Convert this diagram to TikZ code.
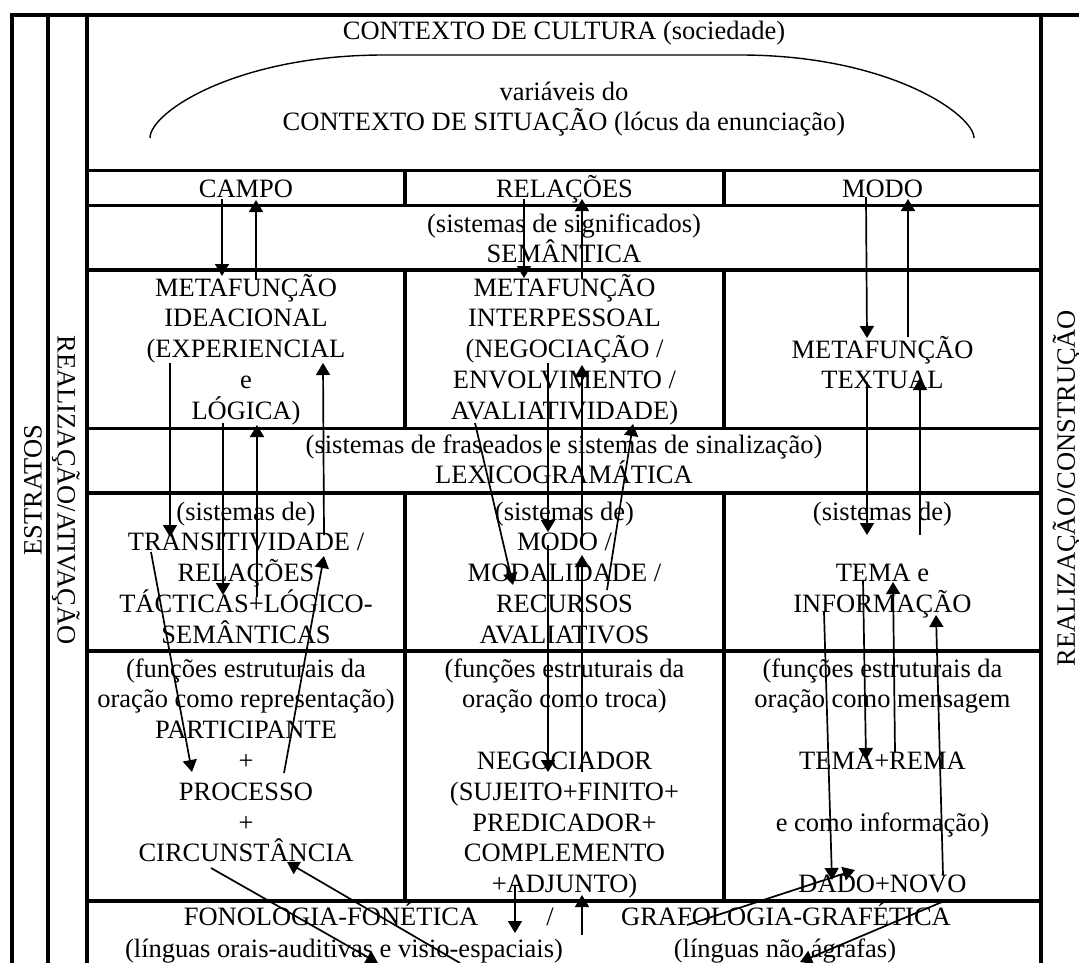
\documentclass[tikz,border=0pt]{standalone}
\usepackage{fontspec}
\setmainfont{Liberation Serif}
\usetikzlibrary{arrows.meta}
\begin{document}
\begin{tikzpicture}[x=1bp,y=-1bp,
  frame/.style={line width=3.8bp},
  arr/.style={line width=1.7bp,-{Triangle[length=12bp,width=14bp]}},
  % multi-line labels are placed by the baseline of their last line
  lbl/.style={inner sep=0pt,anchor=base,align=center,font=\fontsize{26.5bp}{30.8bp}\selectfont},
  side/.style={inner sep=0pt,font=\fontsize{26.5bp}{30.8bp}\selectfont}]
\useasboundingbox (0,0) rectangle (1079,963);
\fill[white] (0,0) rectangle (1079,963);

% outer frame and table rules
\draw[frame] (10.1,14.7) -- (1079,14.7);
\foreach \x in {12,48,87,1041} \draw[frame] (\x,12.8) -- (\x,963);
\foreach \y in {170.5,205.5,270,428.5,493,650.7,900.7} \draw[frame] (87,\y) -- (1041,\y);
\foreach \ya/\yb in {170.5/205.5,270/428.5,493/900.7}
  \foreach \x in {405,724} \draw[frame] (\x,\ya) -- (\x,\yb);

% arc over the context of situation
\draw[line width=1.4bp] (150,138) .. controls (150,112) and (237,55) .. (384,55)
  -- (740,55) .. controls (890,55) and (974,115) .. (974,138);

% texts
\node[lbl] (cultura) at (564,39) {CONTEXTO DE CULTURA (sociedade)};
\node[lbl] (situacao) at (564,130.8) {variáveis do\\CONTEXTO DE SITUAÇÃO (lócus da enunciação)};
\node[lbl] (campo) at (246,197) {CAMPO};
\node[lbl] (relacoes) at (564.5,197) {RELAÇÕES};
\node[lbl] (modo) at (882.5,197) {MODO};
\node[lbl] (semantica) at (564,262.8) {(sistemas de significados)\\SEMÂNTICA};
\node[lbl] (ideacional) at (246,419.2) {METAFUNÇÃO\\IDEACIONAL\\(EXPERIENCIAL\\e\\LÓGICA)};
\node[lbl] (interpessoal) at (564.5,419.2) {METAFUNÇÃO\\INTERPESSOAL\\(NEGOCIAÇÃO /\\ENVOLVIMENTO /\\AVALIATIVIDADE)};
\node[lbl] (textual) at (882.5,388.8) {METAFUNÇÃO\\TEXTUAL};
\node[lbl] (lexico) at (564,483.8) {(sistemas de fraseados e sistemas de sinalização)\\LEXICOGRAMÁTICA};
\node[lbl] (transit) at (246,643.2) {(sistemas de)\\TRANSITIVIDADE /\\RELAÇÕES\\TÁCTICAS+LÓGICO-\\SEMÂNTICAS};
\node[lbl] (modalidade) at (564.5,643.2) {(sistemas de)\\MODO /\\MODALIDADE /\\RECURSOS\\AVALIATIVOS};
\node[lbl] (tema) at (882.5,612.4) {(sistemas de)\\~\\TEMA e\\INFORMAÇÃO};
\node[lbl] (represent) at (246,861.8) {(funções estruturais da\\oração como representação)\\PARTICIPANTE\\+\\PROCESSO\\+\\CIRCUNSTÂNCIA};
\node[lbl] (troca) at (564.5,892.6) {(funções estruturais da\\oração como troca)\\~\\NEGOCIADOR\\(SUJEITO+FINITO+\\PREDICADOR+\\COMPLEMENTO\\+ADJUNTO)};
\node[lbl] (mensagem) at (882.5,892.6) {(funções estruturais da\\oração como mensagem\\~\\TEMA+REMA\\~\\e como informação)\\~\\DADO+NOVO};
\node[lbl] (fono) at (331,925) {FONOLOGIA-FONÉTICA};
\node[lbl] (barra) at (550,925) {/};
\node[lbl] (grafo) at (786,925) {GRAFOLOGIA-GRAFÉTICA};
\node[lbl] (orais) at (344,957) {(línguas orais-auditivas e visio-espaciais)};
\node[lbl] (agrafas) at (785,957) {(línguas não ágrafas)};

% side labels
\node[side,rotate=90] (estratos) at (33,490) {ESTRATOS};
\node[side,rotate=-90] (ativacao) at (66,490) {REALIZAÇÃO/ATIVAÇÃO};
\node[side,rotate=90] (construcao) at (1066.5,488) {REALIZAÇÃO/CONSTRUÇÃO};

% realization arrows between strata
\foreach \n/\xa/\ya/\xb/\yb in {
  1/222/199/222/276, 2/256/280/256/200, 3/524/199/524/278, 4/582/279/582/199,
  5/866/197/867/338, 6/908/337/908/199,
  7/170/363/170/537, 8/324/535/323/363, 9/223/423/223/595, 10/257/597/257/425,
  11/151/552/192/772, 12/284/773/324/556, 13/211/868/378/963, 14/460/963/287/862,
  15/475/423/513/585, 16/548/363/548/532, 17/548/545/548/772, 18/582/772/582/555,
  19/582/545/582/365, 20/607/590/633/424, 21/515/885/515/933, 22/582/935/582/895,
  23/867/382/867/535, 24/920/535/920/378, 25/863/580/866/760, 26/895/752/893/582,
  27/824/612/832/880, 28/943/875/936/615, 29/687/925/855/870, 30/942/902/800/962}
{
  \coordinate (p\n) at (\xa,\ya);
  \coordinate (q\n) at (\xb,\yb);
  \draw[arr] (p\n) -- (q\n);
}
\end{tikzpicture}
\end{document}
